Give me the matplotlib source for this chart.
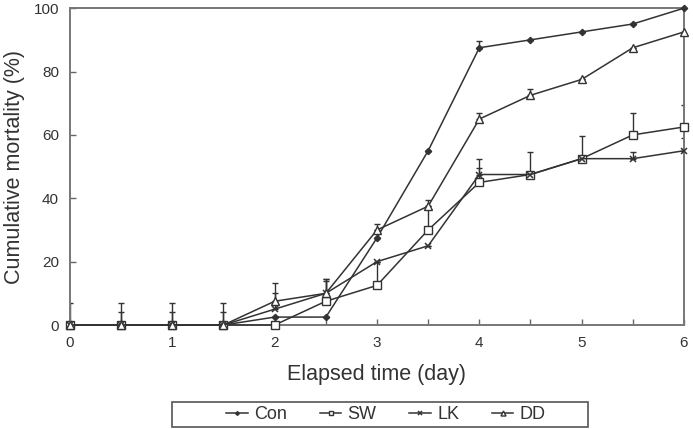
import numpy as np
from matplotlib import pyplot as plt
from matplotlib.patches import Rectangle

plt.rcParams["font.family"] = ["Liberation Sans", "DejaVu Sans"]

days = [0, 0.5, 1, 1.5, 2, 2.5, 3, 3.5, 4, 4.5, 5, 5.5, 6]

con = [0, 0, 0, 0, 2.5, 2.5, 27.5, 55, 87.5, 90, 92.5, 95, 100]
sw = [0, 0, 0, 0, 0, 7.5, 12.5, 30, 45, 47.5, 52.5, 60, 62.5]
lk = [0, 0, 0, 0, 5, 10, 20, 25, 47.5, 47.5, 52.5, 52.5, 55]
dd = [0, 0, 0, 0, 7.5, 10, 30, 37.5, 65, 72.5, 77.5, 87.5, 92.5]

# upper error bars only
con_err = [0, 0, 0, 0, 0, 0, 4.5, 0, 2, 0, 0, 0, 0]
sw_err = [7, 7, 7, 7, 0, 7, 7.5, 7.5, 7.5, 7, 7, 7, 7]
lk_err = [0, 4, 4, 4, 5, 4, 0, 0, 2, 0, 0, 2, 4]
dd_err = [0, 0, 0, 0, 5.8, 4.5, 0, 2, 2, 2, 0, 0, 0]

series = [
    ("Con", con, con_err, dict(marker="D", markersize=3.2, markerfacecolor="#333333")),
    ("SW", sw, sw_err, dict(marker="s", markersize=6, markerfacecolor="white")),
    ("LK", lk, lk_err, dict(marker="x", markersize=4.5, markeredgewidth=1.1)),
    ("DD", dd, dd_err, dict(marker="^", markersize=6, markerfacecolor="white")),
]

ink = "#333333"
fig = plt.figure(figsize=(6.93, 4.29), dpi=100)
ax = fig.add_axes([0.101, 0.2424, 0.886, 0.7386])

handles = []
for name, vals, err, style in series:
    ax.errorbar(days, vals, yerr=[np.zeros(len(err)), err], fmt="none",
                ecolor=ink, elinewidth=1.0, capsize=2.5, capthick=1.0)
    (h,) = ax.plot(days, vals, color=ink, linewidth=1.1, markeredgecolor=ink,
                   label=name, clip_on=False, zorder=3, **style)
    handles.append(h)

ax.set_xlim(0, 6)
ax.set_ylim(0, 100)
ax.set_xticks(np.arange(0, 6.01, 0.5))
ax.set_xticklabels([str(int(t)) if t == int(t) else "" for t in np.arange(0, 6.01, 0.5)])
ax.set_yticks([0, 20, 40, 60, 80, 100])
ax.tick_params(direction="in", length=4, width=1, color="#666666",
               labelsize=11, labelcolor=ink, pad=8)

for sp in ax.spines.values():
    sp.set_color("#777777")
    sp.set_linewidth(1.4)

ax.set_xlabel("Elapsed time (day)", fontsize=15.5, color=ink, labelpad=10)
ax.set_ylabel("Cumulative mortality (%)", fontsize=15.5, color=ink, labelpad=6)

leg = fig.legend(handles=handles, loc="center", ncol=4,
                 bbox_to_anchor=(0.557, 0.033), bbox_transform=fig.transFigure,
                 fontsize=13, frameon=False,
                 handlelength=1.2, handletextpad=0.35, columnspacing=1.8,
                 borderpad=0.1, markerscale=0.6)
for t in leg.get_texts():
    t.set_color(ink)

# legend box is wider than its contents
fig.patches.append(Rectangle((0.248, 0.004), 0.600, 0.059, transform=fig.transFigure,
                             fill=False, edgecolor="#555555", linewidth=1.2))

plt.savefig("out.png", dpi=100)
plt.close(fig)
